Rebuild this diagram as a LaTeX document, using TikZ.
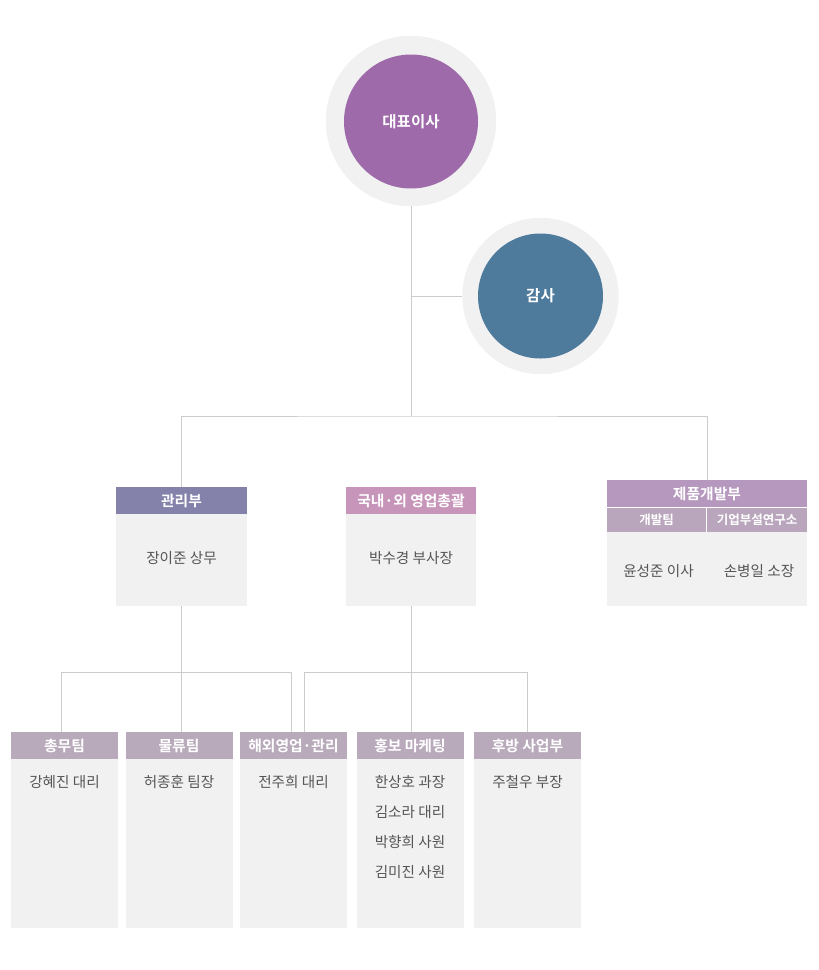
\documentclass[tikz,border=0pt]{standalone}
\usepackage{fontspec}
\setmainfont{Noto Sans CJK KR}[BoldFont={Noto Sans CJK KR Bold}]
\begin{document}
\begin{tikzpicture}[x=1pt,y=-1pt,
  ring/.style={circle,fill=ringgray,inner sep=0},
  disc/.style={circle,inner sep=0,text=white,font=\bfseries\fontsize{15.5}{17}\selectfont},
  hdr/.style={rectangle,inner sep=0,text=white,font=\bfseries\fontsize{14.8}{16}\selectfont},
  subhdr/.style={rectangle,inner sep=0,text=white,fill=subcol,font=\bfseries\fontsize{12.5}{14}\selectfont},
  bodybox/.style={rectangle,inner sep=0,fill=bodygray},
  txt/.style={text=txtgray,font=\fontsize{14.6}{16}\selectfont,inner sep=0},
  link/.style={draw=linegray,line width=1pt}]
\definecolor{ringgray}{HTML}{F1F1F1}
\definecolor{bodygray}{HTML}{F1F1F1}
\definecolor{linegray}{HTML}{CCCCCC}
\definecolor{txtgray}{HTML}{555555}
\definecolor{ceocol}{HTML}{9E6AAA}
\definecolor{audcol}{HTML}{4E7A9C}
\definecolor{mgmtcol}{HTML}{8481AA}
\definecolor{salescol}{HTML}{C695B9}
\definecolor{prodcol}{HTML}{B698BE}
\definecolor{subcol}{HTML}{B9A6BD}
\definecolor{teamcol}{HTML}{B8A9BB}
\useasboundingbox (0,0) rectangle (819,970);
\fill[white] (0,0) rectangle (819,970);

% coordinates of junctions
\coordinate (bus1) at (411,416);
\coordinate (audj) at (411,296);
\coordinate (bus2a) at (181,672.5);
\coordinate (bus2b) at (411,672.5);
\coordinate (d1) at (61.5,732);
\coordinate (d2) at (181,732);
\coordinate (d3) at (291.5,732);
\coordinate (d4) at (304.5,732);
\coordinate (d5) at (411,732);
\coordinate (d6) at (527.5,732);

% lines (under shapes)
\node[ring,minimum size=170] (ceoring) at (411,121) {};
\node[ring,minimum size=156] (audring) at (540.5,296) {};
\draw[link] (ceoring.south) -- (bus1);
\draw[link] (audj) -- (audring.west);
\draw[link] (181,487) |- (bus1) -| (707,480);
\draw[link] (181,606) -- (bus2a);
\draw[link] (d1) |- (bus2a) -| (d3);
\draw[link] (bus2a) -- (d2);
\draw[link] (411,606) -- (bus2b);
\draw[link] (d4) |- (bus2b) -| (d6);
\draw[link] (bus2b) -- (d5);

% circles
\node[ring,minimum size=170] at (411,121) {};
\node[ring,minimum size=156] at (540.5,296) {};
\node[disc,fill=ceocol,minimum size=134] (ceo) at (411,121.5) {대표이사};
\node[disc,fill=audcol,minimum size=125] (aud) at (540.5,296) {감사};

% middle row
\node[hdr,fill=mgmtcol,minimum width=131,minimum height=27] (h1) at (181.5,500.5) {관리부};
\node[bodybox,minimum width=131,minimum height=92] (b1) at (181.5,560) {};
\node[txt] at (181.5,558) {장이준 상무};

\node[hdr,fill=salescol,minimum width=130,minimum height=27] (h2) at (411,500.5) {국내·외 영업총괄};
\node[bodybox,minimum width=130,minimum height=92] (b2) at (411,560) {};
\node[txt] at (411,558) {박수경 부사장};

\node[hdr,fill=prodcol,minimum width=200,minimum height=27] (h3) at (707,493.5) {제품개발부};
\node[subhdr,minimum width=99,minimum height=24] (s31) at (656.5,520) {개발팀};
\node[subhdr,minimum width=100,minimum height=24] (s32) at (757,520) {기업부설연구소};
\node[bodybox,minimum width=200,minimum height=74] (b3) at (707,569) {};
\node[txt] at (658.5,571) {윤성준 이사};
\node[txt] at (759,571) {손병일 소장};

% bottom row
\foreach \n/\cx/\lab in {t1/64.5/총무팀, t2/179/물류팀, t3/293.5/해외영업·관리, t4/410/홍보 마케팅, t5/527.5/후방 사업부}{
  \node[hdr,fill=teamcol,minimum width=107,minimum height=27] (\n h) at (\cx,745.5) {\lab};
  \node[bodybox,minimum width=107,minimum height=169] (\n b) at (\cx,843.5) {};
}
\node[txt] (p1) at (64.5,782) {강혜진 대리};
\node[txt] (p2) at (179,782) {허종훈 팀장};
\node[txt] (p3) at (293.5,782) {전주희 대리};
\node[txt] (p41) at (410,782) {한상호 과장};
\node[txt] (p42) at (410,812) {김소라 대리};
\node[txt] (p43) at (410,842) {박향희 사원};
\node[txt] (p44) at (410,872) {김미진 사원};
\node[txt] (p5) at (527.5,782) {주철우 부장};
\end{tikzpicture}
\end{document}
